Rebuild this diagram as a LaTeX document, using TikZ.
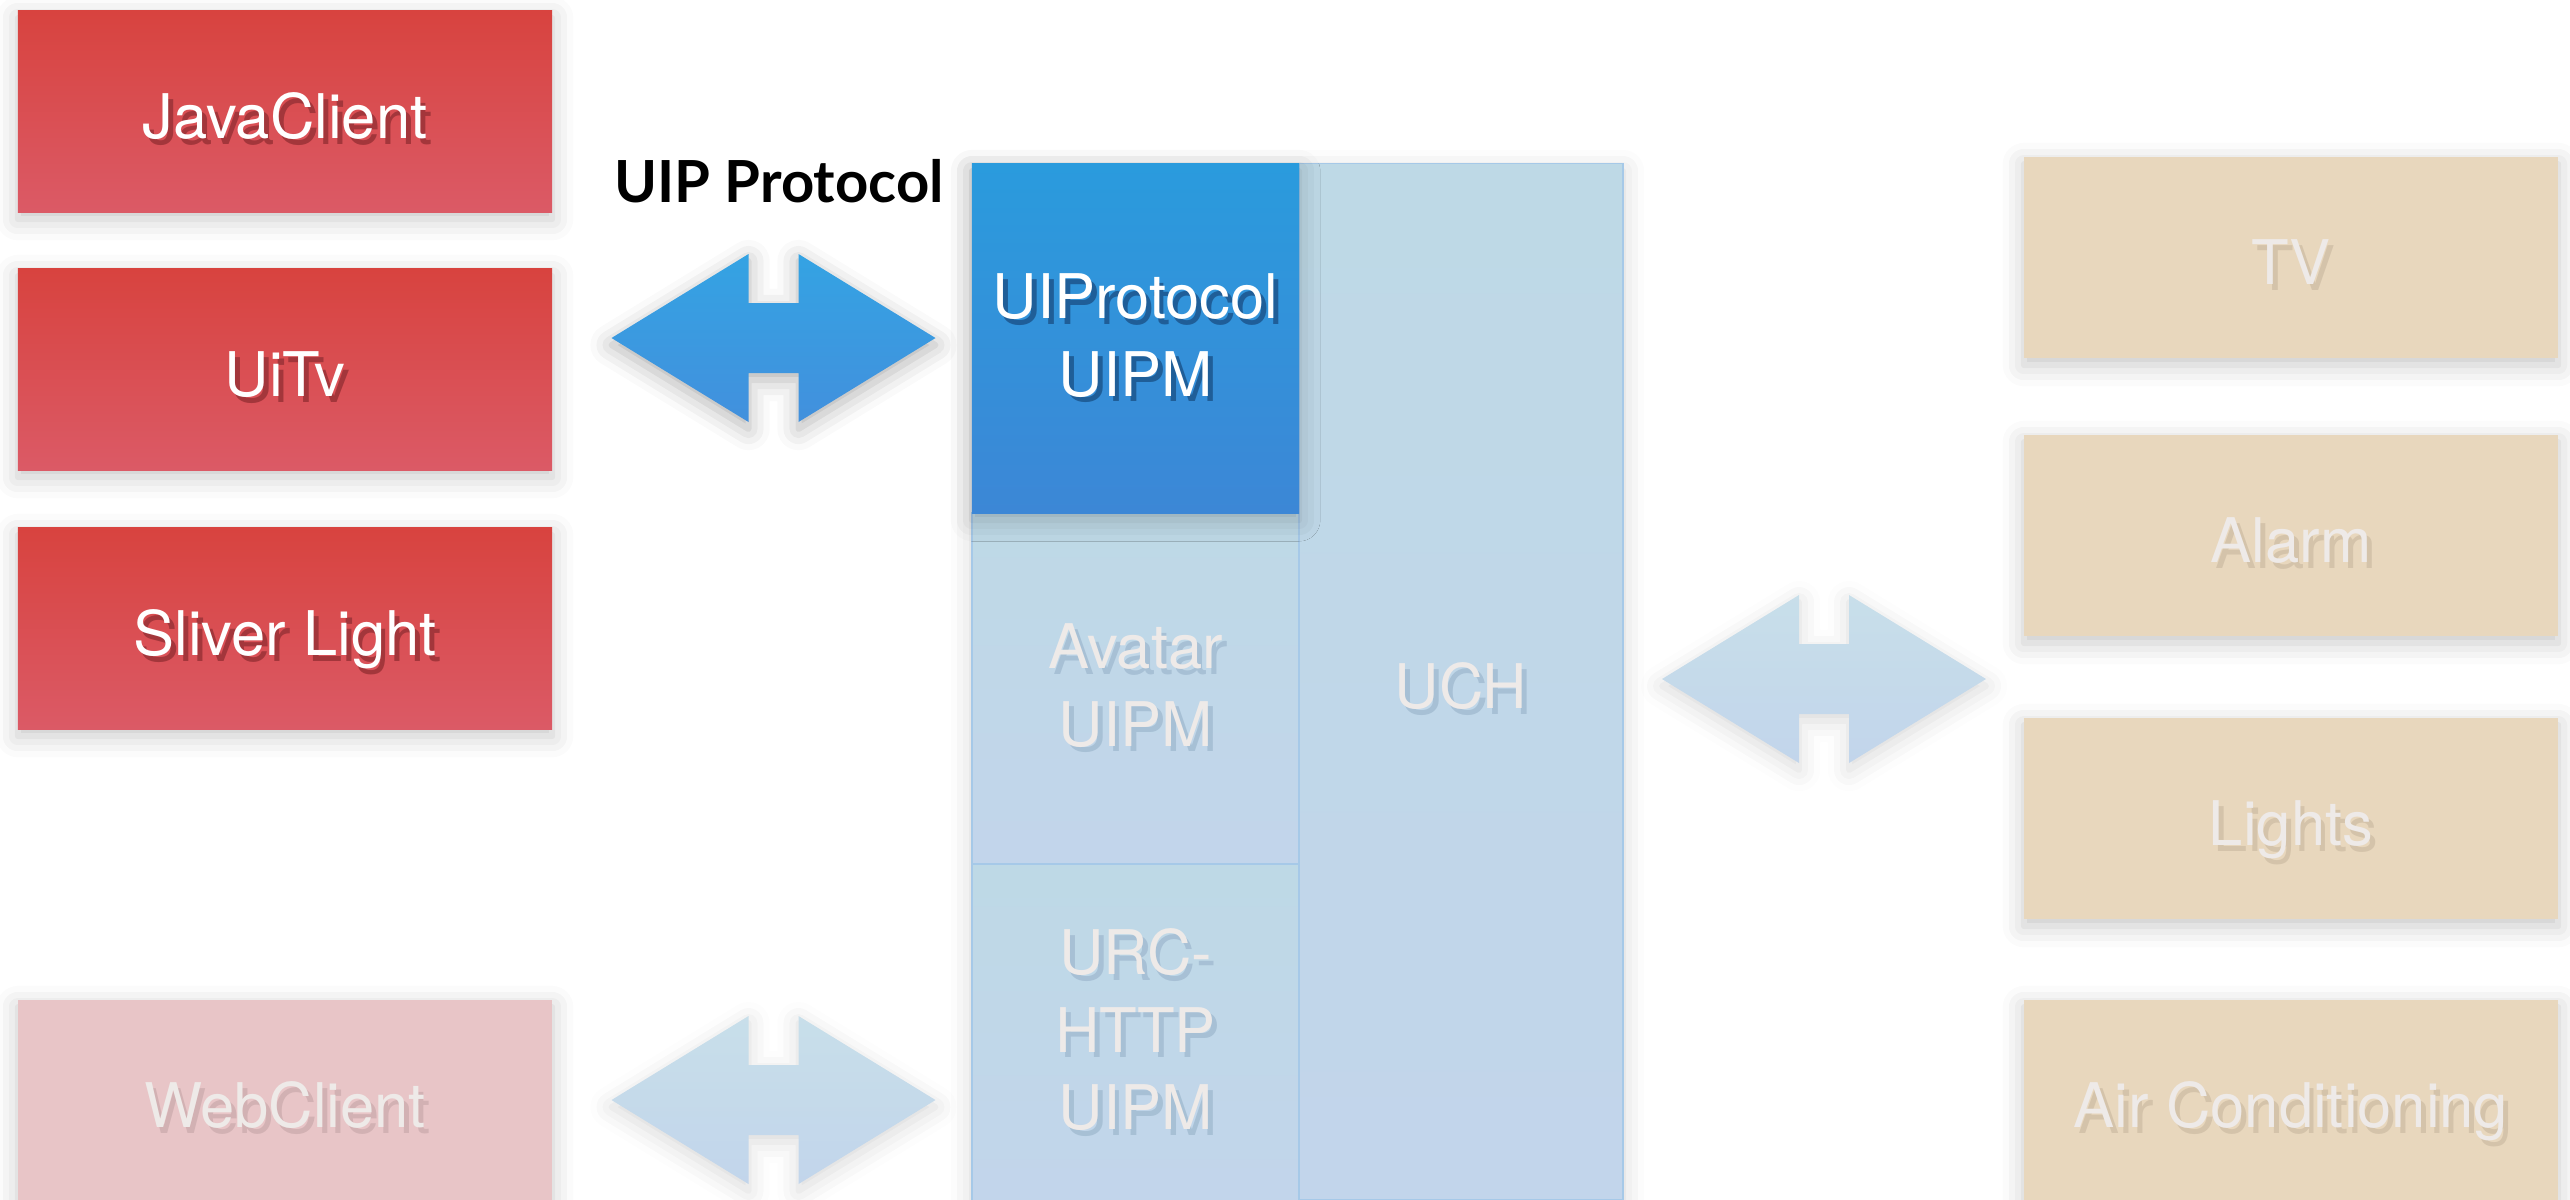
\documentclass[tikz,border=0pt]{standalone}
\usepackage{fontspec}
\setmainfont{TeX Gyre Heros}
\newfontfamily\labelfont{Lato}
\usetikzlibrary{shadows.blur}

\definecolor{redtop}{HTML}{D8433F}
\definecolor{redbot}{HTML}{DB5A66}
\definecolor{redshd}{HTML}{A3363B}
\definecolor{pinkfill}{HTML}{E8C5C7}
\definecolor{pinkshd}{HTML}{D2B1B3}
\definecolor{tanfill}{HTML}{E8D7BD}
\definecolor{tanshd}{HTML}{D4C3AA}
\definecolor{paletop}{HTML}{BED9E6}
\definecolor{palebot}{HTML}{C2D5EB}
\definecolor{paleshd}{HTML}{A7C0D5}
\definecolor{bluetop}{HTML}{2A9BDD}
\definecolor{bluebot}{HTML}{3C87D6}
\definecolor{blueshd}{HTML}{1F5E98}
\definecolor{arrtop}{HTML}{34A3E3}
\definecolor{arrbot}{HTML}{4290DD}
\definecolor{fadetext}{HTML}{EEEAE8}
\definecolor{divline}{HTML}{A6C9E8}

% text with a small offset shadow
\newcommand{\shd}[1]{\leavevmode\rlap{\kern1.4pt\raisebox{-1.6pt}{\textcolor{shcol}{#1}}}#1}

\tikzset{
  softshadow/.style={blur shadow={shadow xshift=0pt, shadow yshift=-2pt,
    shadow blur radius=6pt, shadow opacity=#1}},
  softshadow/.default=22,
  plainbox/.style={rectangle, inner sep=0pt, minimum width=5.34cm, minimum height=2.01cm,
    font=\fontsize{17.5}{22}\selectfont, align=center, text height=15.4pt, text depth=0pt},
  multiline/.style={text height=, text depth=},
  box/.style={plainbox, softshadow},
  client/.style={box, top color=redtop, bottom color=redbot, text=white,
    execute at begin node={\colorlet{shcol}{redshd}}},
  webclient/.style={box, fill=pinkfill, text=fadetext,
    execute at begin node={\colorlet{shcol}{pinkshd}}},
  device/.style={box, fill=tanfill, text=fadetext,
    execute at begin node={\colorlet{shcol}{tanshd}}},
  uipm/.style={plainbox, minimum width=3.27cm, top color=paletop, bottom color=palebot,
    draw=divline, line width=0.4pt, text=fadetext,
    execute at begin node={\colorlet{shcol}{paleshd}}},
  mainarrow/.style={top color=arrtop, bottom color=arrbot, softshadow=30},
  fadearrow/.style={top color=paletop!85!white, bottom color=palebot, softshadow=15},
  fatarrow/.pic={
    \path[#1] (-162,0) -- (-25,-84) -- (-25,-35) -- (25,-35) -- (25,-84) -- (162,0)
      -- (25,84) -- (25,35) -- (-25,35) -- (-25,84) -- cycle;
  }
}

\begin{document}
\begin{tikzpicture}[x=0.01cm, y=-0.01cm]
  \useasboundingbox (0,0) rectangle (2570,1199);

  % clients
  \node[client] (java) at (285,111.5) {\shd{JavaClient}};
  \node[client] (uitv) at (285,369.5) {\shd{UiTv}};
  \node[client] (sliver) at (285,628.5) {\shd{Sliver Light}};
  \node[webclient] (web) at (285,1100.5) {\shd{WebClient}};

  % middle column
  \path[fill=white, softshadow=18] (972,164) rectangle (1623,1199);
  \node[uipm, minimum width=3.24cm, minimum height=10.35cm] (uch) at (1461,681.5) {\shd{UCH}};
  \node[uipm, multiline, minimum height=3.51cm] (avatar) at (1135.5,688.5) {\shd{Avatar}\\\shd{UIPM}};
  \node[uipm, multiline, minimum height=3.37cm] (urc) at (1135.5,1032.5) {\shd{URC-}\\\shd{HTTP}\\\shd{UIPM}};
  \node[box, multiline, minimum width=3.27cm, minimum height=3.49cm, top color=bluetop, bottom color=bluebot,
    text=white, execute at begin node={\colorlet{shcol}{blueshd}}]
    (uiprot) at (1135.5,338.5) {\shd{UIProtocol}\\\shd{UIPM}};

  % devices
  \node[device] (tv) at (2291,257.5) {\shd{TV}};
  \node[device] (alarm) at (2291,535.5) {\shd{Alarm}};
  \node[device] (lights) at (2291,818.5) {\shd{Lights}};
  \node[device] (aircon) at (2291,1100.5) {\shd{Air Conditioning}};

  % arrows
  \coordinate (uipL) at (773.5,338);
  \coordinate (webL) at (773.5,1100);
  \coordinate (uchR) at (1824,679);
  \pic at (uipL) {fatarrow=mainarrow};
  \pic at (webL) {fatarrow=fadearrow};
  \pic at (uchR) {fatarrow=fadearrow};

  \node[font=\labelfont\bfseries\fontsize{16.5}{20}\selectfont, anchor=base, inner sep=0pt]
    (uiplabel) at (779,202) {UIP Protocol};
\end{tikzpicture}
\end{document}
